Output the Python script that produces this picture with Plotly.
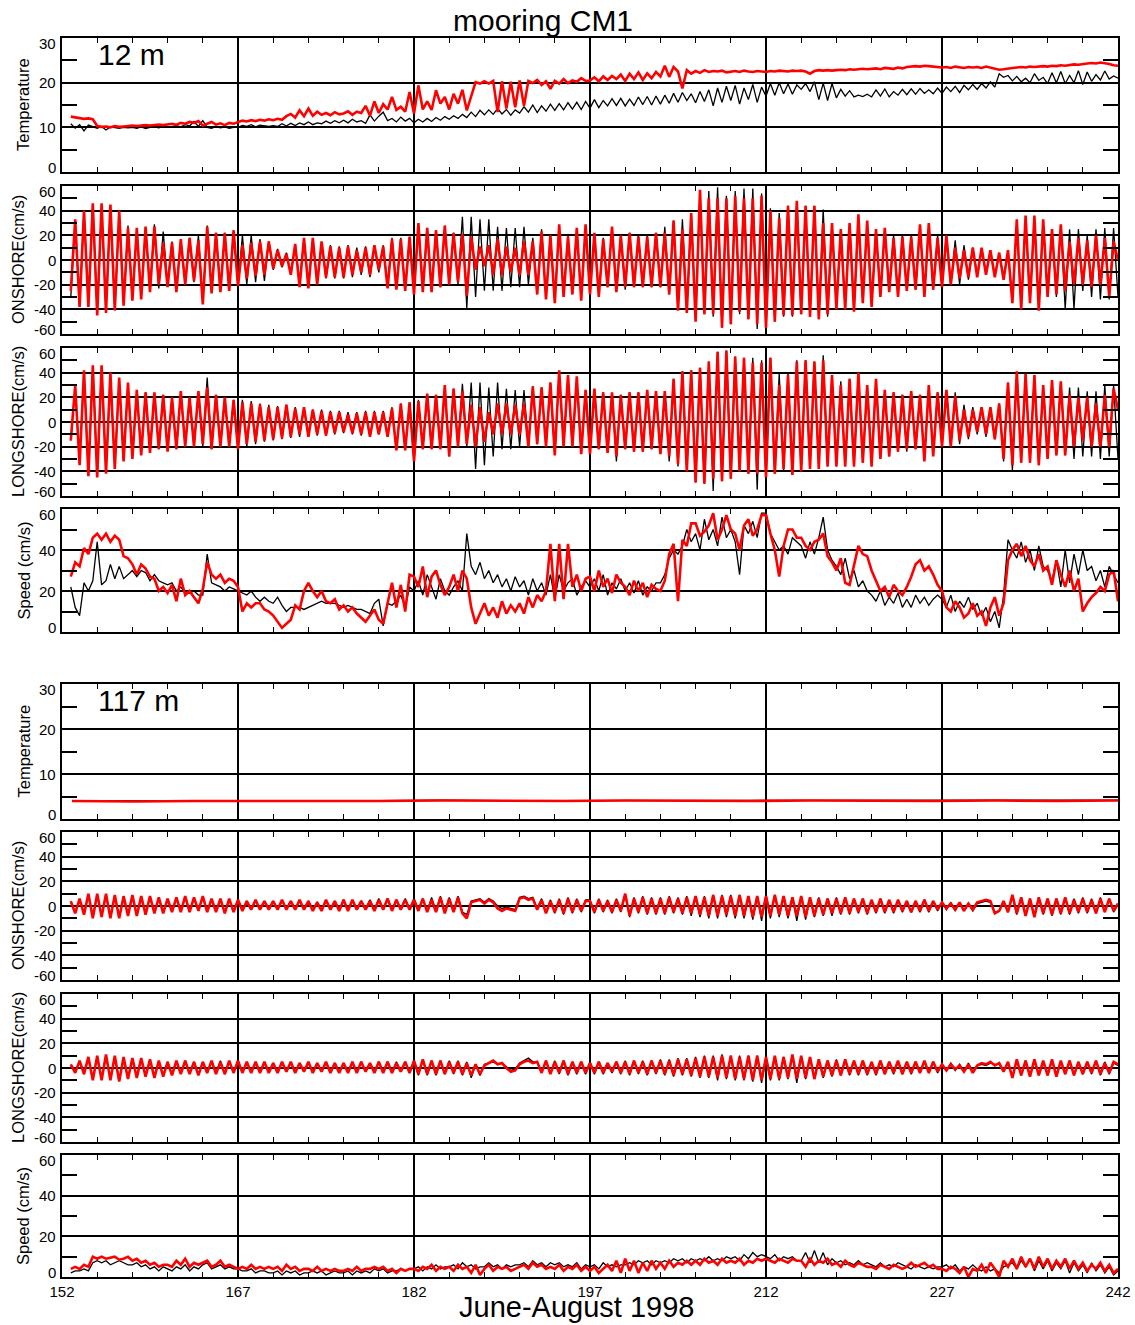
import numpy as np
import plotly.graph_objects as go

# ---------------- data ----------------
DAY_TICKS = [152, 167, 182, 197, 212, 227, 242]
MINOR_DAYS = list(range(155, 242, 3))

# sampling grid: 8 samples per 3 days (first row 6 samples)
T0, DT = 152.75, 0.375

T12_RED = [12.4, 12.2, 12.0, 11.9, 12.0, 11.8,
           10.3, 10.1, 10.2, 10.0, 10.3, 10.1, 10.2, 10.3,
           10.4, 10.3, 10.4, 10.5, 10.4, 10.5, 10.6, 10.5,
           10.6, 10.8, 10.6, 11.0, 10.8, 11.2, 11.0, 11.4,
           10.4, 10.8, 11.2, 10.6, 10.9, 10.5, 11.0, 10.8,
           11.2, 11.5, 11.3, 11.6, 11.4, 11.7, 11.5, 11.8,
           11.6, 11.9, 11.7, 12.5, 13.0, 12.2, 13.8, 12.5,
           14.2, 12.6, 13.5, 12.8, 13.2, 12.7, 13.4, 12.9,
           13.1, 13.6, 12.8, 13.5, 13.2, 14.8, 12.6, 15.8,
           13.2, 15.2, 14.0, 16.8, 13.9, 14.6, 13.5, 17.9,
           13.1, 19.4, 14.0, 15.8, 13.9, 18.3, 15.3, 16.8,
           14.0, 17.5, 15.3, 18.4, 13.8, 17.0, 20.1, 19.8,
           20.3, 19.8, 20.4, 13.4, 20.3, 14.2, 20.2, 14.5,
           20.5, 14.8, 20.4, 19.9, 20.6, 19.5, 20.3, 18.6,
           20.4, 19.8, 20.8, 19.9, 20.5, 20.2, 21.0, 20.4,
           20.5, 21.2, 20.3, 21.4, 20.6, 21.5, 20.8, 21.8,
           20.4, 22.0, 20.8, 22.3, 20.6, 22.1, 21.0, 22.4,
           21.4, 23.8, 21.3, 23.5, 22.5, 18.7, 22.8, 22.0,
           22.6, 22.2, 22.8, 22.4, 22.6, 22.5, 22.7, 22.3,
           22.5, 22.6, 22.4, 22.7, 22.5, 22.4, 22.6, 22.5,
           22.4, 22.6, 22.5, 22.7, 22.6, 22.5, 22.7, 22.6,
           22.7, 22.5, 22.0, 22.6, 22.8, 22.7, 22.8, 22.7,
           22.8, 22.9, 22.8, 23.0, 22.9, 23.0, 23.1, 23.0,
           23.1, 23.2, 23.0, 23.3, 23.2, 23.1, 23.4, 23.2,
           23.5, 23.6, 23.7, 23.6, 23.8, 23.7, 23.6, 23.5,
           23.4, 23.5, 23.3, 23.6, 23.4, 23.3, 23.5, 23.4,
           23.5, 23.3, 23.6, 23.4, 23.2, 22.9, 23.0, 23.2,
           23.3, 23.4, 23.5, 23.4, 23.6, 23.5, 23.6, 23.7,
           23.6, 23.8, 23.7, 23.9, 23.8, 24.0, 24.1, 24.0,
           24.2, 24.3, 24.4, 24.3, 24.5, 24.4, 24.2, 23.9, 23.8]

T12_BLACK = [10.8, 9.8, 10.6, 9.2, 10.5, 10.2,
             9.8, 10.2, 9.4, 10.1, 10.0, 9.8, 10.0, 9.9,
             10.0, 9.8, 10.1, 9.7, 10.0, 10.1, 9.9, 10.2,
             10.0, 10.2, 10.4, 10.1, 10.6, 10.3, 11.3, 10.2,
             11.5, 10.0, 9.8, 10.2, 9.9, 10.1, 9.8, 10.0,
             10.0, 10.4, 10.2, 10.6, 10.1, 10.5, 10.3, 10.2,
             10.4, 10.2, 10.8, 10.3, 10.9, 10.4, 11.0, 10.6,
             11.2, 10.6, 11.0, 10.8, 11.4, 10.9, 11.5, 11.0,
             11.6, 11.0, 11.8, 11.2, 11.5, 10.9, 12.8, 11.4,
             12.5, 13.4, 11.5, 12.0, 11.2, 12.3, 11.4, 12.0,
             11.0, 11.8, 11.2, 12.0, 11.3, 12.2, 11.6, 12.4,
             11.8, 12.6, 12.0, 12.9, 12.2, 13.4, 12.4, 13.8,
             12.8, 13.9, 12.9, 14.2, 13.0, 14.0, 12.7, 13.9,
             13.2, 14.6, 13.4, 15.0, 13.3, 14.8, 13.6, 15.2,
             13.8, 15.3, 13.9, 15.5, 14.1, 15.6, 14.0, 15.8,
             14.3, 16.2, 14.4, 16.0, 14.8, 16.4, 14.9, 16.5,
             14.8, 16.3, 14.9, 16.8, 15.1, 16.9, 15.0, 17.0,
             15.2, 17.2, 15.4, 17.6, 15.6, 17.8, 16.0, 17.5,
             15.5, 18.0, 15.8, 18.4, 14.8, 18.8, 15.6, 19.2,
             16.0, 19.4, 15.2, 18.8, 16.2, 19.6, 15.6, 19.0,
             17.0, 19.8, 17.2, 20.0, 17.5, 19.7, 17.4, 19.5,
             18.5, 19.8, 18.0, 20.2, 16.2, 19.9, 16.0, 19.8,
             16.6, 18.5, 17.0, 18.2, 16.8, 17.2, 16.9, 17.4,
             16.8, 18.4, 17.0, 18.6, 16.8, 18.0, 17.2, 18.5,
             17.3, 18.6, 17.4, 18.7, 17.6, 18.4, 17.5, 18.8,
             17.6, 19.0, 18.0, 19.2, 17.8, 19.4, 18.4, 19.6,
             18.5, 19.8, 18.8, 20.2, 19.0, 22.0, 21.2, 21.6,
             20.4, 21.4, 20.2, 21.0, 20.0, 22.0, 20.5, 21.2,
             19.8, 22.2, 20.0, 22.5, 19.8, 21.6, 20.0, 22.7,
             19.6, 22.4, 20.3, 21.8, 20.6, 22.6, 20.8, 21.5, 21.0]

ON12_RED = [-25, 33, -38, 40, -38, 46,
            -45, 46, -43, 45, -41, 40, -37, 26,
            -33, 26, -32, 27, -26, 27, -20, 14,
            -22, 14, -26, 17, -20, 18, -17, 16,
            -36, 27, -27, 22, -26, 22, -25, 24,
            -21, 12, -15, 14, -13, 15, -12, 15,
            -7, 8, -5, 5, -12, 13, -22, 18,
            -23, 18, -20, 15, -14, 11, -14, 10,
            -14, 11, -12, 8, -10, 10, -12, 12,
            -8, 11, -23, 17, -24, 17, -25, 19,
            -28, 30, -26, 26, -26, 24, -22, 28,
            -20, 22, -18, 21, -29, 19, -8, 11,
            -5, 12, -12, 17, -12, 11, -10, 10,
            -12, 15, -12, 15, -28, 23, -32, 20,
            -35, 29, -30, 19, -28, 26, -33, 29,
            -28, 22, -30, 17, -22, 27, -26, 20,
            -22, 22, -22, 19, -22, 19, -22, 22,
            -22, 22, -28, 32, -41, 25, -43, 38,
            -50, 57, -44, 50, -44, 50, -55, 50,
            -52, 52, -42, 50, -48, 50, -52, 52,
            -55, 40, -50, 34, -45, 44, -45, 48,
            -44, 44, -46, 44, -48, 30, -44, 30,
            -40, 25, -40, 30, -42, 37, -35, 32,
            -38, 25, -30, 26, -26, 18, -30, 19,
            -25, 19, -24, 29, -30, 30, -24, 18,
            -22, 20, -20, 10, -15, 8, -14, 10,
            -14, 10, -12, 8, -14, 6, -16, 8,
            -35, 33, -40, 36, -35, 36, -41, 33,
            -30, 25, -28, 29, -25, 15, -20, 18,
            -20, 16, -22, 20, -20, 18, -30, 15, 0]

ON12_BLACK = [-30, 30, -38, 40, -38, 44,
              -44, 44, -42, 44, -40, 38, -35, 28,
              -30, 24, -30, 26, -24, 29, -23, 23,
              -20, 15, -24, 16, -20, 18, -18, 20,
              -34, 28, -26, 22, -25, 22, -24, 24,
              -22, 20, -20, 20, -18, 17, -17, 15,
              -8, 9, -6, 6, -12, 12, -18, 17,
              -20, 17, -18, 14, -15, 12, -15, 11,
              -15, 12, -14, 10, -12, 11, -14, 12,
              -10, 12, -22, 18, -22, 18, -24, 18,
              -26, 28, -24, 25, -25, 24, -22, 26,
              -20, 22, -20, 35, -39, 35, -30, 33,
              -25, 33, -25, 27, -25, 26, -22, 26,
              -22, 27, -20, 18, -26, 25, -30, 20,
              -33, 27, -28, 20, -27, 25, -30, 27,
              -26, 20, -28, 18, -22, 25, -25, 20,
              -24, 22, -22, 20, -22, 20, -22, 22,
              -22, 27, -28, 32, -40, 33, -42, 38,
              -48, 56, -44, 56, -46, 59, -55, 52,
              -52, 56, -44, 58, -48, 58, -56, 54,
              -58, 42, -50, 38, -46, 44, -46, 46,
              -44, 44, -46, 44, -48, 41, -46, 30,
              -38, 25, -38, 29, -40, 35, -34, 31,
              -36, 24, -30, 25, -26, 20, -29, 20,
              -24, 20, -24, 27, -28, 28, -24, 20,
              -22, 20, -20, 16, -20, 12, -16, 10,
              -12, 8, -10, 6, -12, 4, -14, 6,
              -33, 30, -38, 33, -34, 34, -38, 31,
              -30, 25, -30, 28, -40, 25, -40, 25,
              -25, 20, -30, 25, -32, 26, -32, 26, -30]

LS12_RED = [-15, 30, -35, 42, -44, 46,
            -45, 46, -42, 40, -38, 36, -32, 32,
            -30, 26, -27, 24, -25, 24, -22, 22,
            -24, 20, -22, 25, -20, 20, -20, 25,
            -18, 28, -22, 22, -20, 20, -20, 18,
            -22, 16, -18, 15, -16, 14, -15, 12,
            -14, 12, -13, 14, -12, 11, -10, 12,
            -12, 10, -10, 9, -11, 8, -9, 8,
            -8, 6, -9, 7, -10, 8, -12, 8,
            -10, 8, -12, 11, -23, 15, -23, 16,
            -32, 17, -22, 23, -22, 22, -22, 30,
            -28, 27, -20, 25, -18, 14, -20, 12,
            -16, 8, -10, 15, -10, 15, -10, 14,
            -10, 15, -20, 29, -18, 28, -20, 32,
            -27, 42, -20, 38, -20, 37, -26, 26,
            -26, 27, -22, 24, -25, 24, -28, 22,
            -22, 24, -24, 24, -24, 26, -22, 25,
            -26, 25, -28, 35, -34, 41, -40, 42,
            -49, 44, -50, 49, -46, 57, -48, 58,
            -46, 53, -40, 52, -42, 48, -42, 48,
            -45, 52, -42, 30, -38, 38, -43, 49,
            -40, 50, -38, 49, -38, 50, -36, 38,
            -36, 30, -36, 35, -36, 40, -33, 30,
            -36, 35, -30, 26, -28, 24, -24, 22,
            -22, 25, -22, 22, -32, 30, -28, 24,
            -20, 26, -20, 21, -15, 10, -12, 10,
            -8, 12, -10, 12, -14, 15, -30, 32,
            -35, 41, -33, 39, -33, 38, -35, 30,
            -30, 34, -27, 33, -27, 22, -20, 20,
            -15, 20, -20, 15, -20, 22, -20, 27, 10]

LS12_BLACK = [-15, 28, -33, 40, -42, 44,
              -44, 44, -40, 38, -36, 34, -30, 30,
              -28, 25, -26, 24, -24, 23, -22, 22,
              -22, 20, -22, 24, -20, 21, -20, 24,
              -20, 36, -22, 22, -20, 20, -20, 18,
              -22, 18, -20, 17, -18, 15, -16, 14,
              -15, 13, -14, 14, -13, 12, -12, 12,
              -12, 10, -11, 10, -11, 9, -10, 9,
              -9, 8, -10, 8, -11, 9, -12, 9,
              -10, 9, -12, 12, -22, 15, -22, 16,
              -32, 18, -22, 22, -22, 22, -22, 28,
              -28, 27, -20, 31, -20, 32, -38, 32,
              -35, 28, -28, 32, -22, 27, -22, 26,
              -20, 26, -20, 29, -18, 28, -20, 32,
              -27, 40, -20, 36, -20, 35, -26, 26,
              -26, 26, -22, 24, -25, 23, -32, 22,
              -22, 24, -24, 24, -24, 26, -22, 25,
              -26, 25, -32, 35, -36, 41, -40, 42,
              -49, 44, -50, 49, -56, 57, -48, 58,
              -46, 53, -40, 52, -42, 52, -55, 50,
              -45, 52, -42, 39, -40, 40, -43, 50,
              -40, 50, -38, 49, -38, 54, -36, 38,
              -36, 33, -36, 35, -36, 40, -33, 30,
              -36, 34, -30, 26, -28, 24, -24, 22,
              -24, 25, -22, 22, -30, 28, -27, 24,
              -20, 26, -20, 24, -18, 14, -14, 12,
              -10, 12, -12, 12, -14, 15, -32, 32,
              -39, 40, -33, 39, -33, 38, -35, 30,
              -30, 33, -27, 32, -27, 28, -30, 28,
              -28, 25, -28, 25, -30, 30, -28, 30, -30]

SP12_RED = [27, 34, 32, 41, 38, 46,
            48, 45, 48, 44, 47, 45, 37, 36,
            33, 28, 33, 31, 27, 26, 20, 22,
            19, 23, 15, 26, 18, 20, 17, 14,
            21, 34, 28, 26, 28, 24, 26, 25,
            22, 10, 14, 12, 14, 14, 11, 10,
            8, 5, 2, 4, 6, 13, 11, 20,
            24, 20, 17, 20, 15, 14, 16, 11,
            13, 10, 12, 9, 7, 5, 8, 11,
            6, 4, 14, 24, 12, 23, 10, 28,
            27, 22, 32, 17, 27, 30, 23, 18,
            22, 28, 20, 30, 26, 12, 4, 9,
            14, 8, 12, 7, 15, 9, 13, 10,
            14, 9, 17, 12, 18, 15, 20, 43,
            15, 43, 16, 43, 22, 28, 20, 26,
            27, 20, 30, 22, 26, 19, 28, 24,
            22, 18, 25, 20, 24, 17, 23, 21,
            20, 25, 38, 43, 15, 45, 42, 53,
            53, 47, 49, 52, 58, 45, 50, 57,
            50, 48, 40, 52, 55, 47, 50, 57,
            57, 48, 40, 27, 42, 50, 50, 46,
            46, 42, 40, 44, 45, 48, 37, 34,
            30, 36, 24, 23, 32, 42, 38, 37,
            30, 25, 20, 22, 17, 23, 20, 18,
            22, 27, 33, 35, 30, 32, 28, 23,
            20, 12, 10, 15, 12, 7, 9, 14,
            8, 10, 3, 12, 17, 8, 14, 35,
            40, 43, 37, 42, 35, 32, 38, 30,
            32, 23, 35, 28, 22, 30, 20, 26,
            10, 14, 17, 19, 22, 20, 28, 30, 15]

SP12_BLACK = [22, 12, 8, 24, 20, 25,
              44, 23, 25, 33, 26, 32, 26, 28,
              30, 27, 30, 29, 25, 28, 25, 24,
              23, 24, 20, 22, 19, 19, 20, 18,
              18, 38, 24, 23, 22, 20, 22, 21,
              20, 19, 18, 20, 17, 15, 17, 15,
              14, 17, 13, 10, 12, 12, 12, 11,
              12, 13, 14, 15, 14, 14, 14, 13,
              12, 13, 12, 11, 11, 10, 9, 14,
              16, 3, 14, 13, 15, 18, 12, 22,
              20, 25, 18, 28, 22, 16, 26, 20,
              18, 22, 25, 20, 48, 32, 28, 34,
              26, 30, 24, 28, 22, 26, 20, 27,
              22, 25, 18, 26, 20, 24, 18, 28,
              16, 28, 20, 24, 26, 18, 22, 25,
              22, 26, 20, 28, 18, 24, 21, 26,
              20, 24, 19, 25, 18, 22, 20, 24,
              24, 28, 36, 40, 38, 42, 50, 44,
              48, 40, 55, 45, 50, 42, 56, 46,
              50, 44, 28, 52, 48, 54, 46, 58,
              58, 48, 44, 40, 42, 38, 46, 44,
              42, 36, 44, 38, 46, 56, 40, 35,
              32, 28, 36, 26, 30, 22, 25, 20,
              18, 15, 20, 13, 17, 14, 19, 12,
              16, 12, 18, 14, 17, 13, 16, 18,
              16, 12, 18, 10, 15, 12, 17, 11,
              14, 8, 12, 5, 10, 2, 18, 45,
              40, 36, 44, 34, 40, 30, 42, 32,
              30, 25, 35, 22, 40, 24, 38, 28,
              40, 30, 32, 25, 30, 22, 32, 28, 24]

T117_RED = [4.0, 3.9, 4.0, 4.0, 3.9, 4.0, 4.1, 4.0, 4.0, 4.1,
            4.0, 4.0, 4.1, 4.0, 4.0, 4.1, 4.0, 4.1]
T117_BLACK = [4.1, 4.0, 4.0, 4.1, 4.0, 4.1, 4.2, 4.1, 4.1, 4.2,
              4.1, 4.1, 4.2, 4.1, 4.1, 4.2, 4.1, 4.2]

ON117_RED = [4, -6, 6, -7, 10, -10,
             10, -9, 10, -10, 9, -10, 8, -8,
             9, -8, 8, -7, 8, -6, 7, -6,
             6, -5, 7, -5, 8, -5, 7, -4,
             8, -5, 6, -5, 6, -6, 6, -5,
             5, -4, 4, -3, 5, -3, 4, -3,
             4, -3, 5, -3, 4, -3, 5, -3,
             4, -4, 3, -4, 5, -3, 4, -4,
             5, -4, 5, -3, 4, -3, 4, -4,
             5, -3, 6, -4, 5, -3, 5, -3,
             5, -4, 6, -5, 5, -5, 7, -6,
             6, -5, 7, -6, -10, 3, 4, 5,
             2, 5, 3, -2, -4, -2, -3, -4,
             6, 7, 5, 6, -3, 5, -6, 4,
             -5, 5, -6, 6, -5, 5, -4, 4,
             4, -5, 5, -4, 4, -5, 5, -4,
             10, -8, 6, -5, 7, -6, 6, -6,
             6, -6, 7, -5, 6, -6, 7, -6,
             8, -7, 7, -8, 9, -8, 8, -7,
             8, -8, 9, -8, 8, -9, 8, -9,
             8, -8, 9, -7, 8, -8, 7, -8,
             8, -9, 7, -8, 6, -7, 6, -6,
             6, -6, 7, -6, 6, -5, 6, -6,
             5, -5, 6, -5, 5, -5, 5, -4,
             4, -5, 4, -4, 5, -4, 4, -3,
             3, -2, 2, -3, 3, -4, 2, -3,
             3, 4, 5, 4, -6, -4, 4, -5,
             9, -6, 7, -8, 6, -9, 7, -6,
             6, -7, 6, -6, 7, -6, 5, -5,
             6, -5, 5, -6, 6, -5, 6, -4, 2]

ON117_BLACK = [3, -5, 5, -6, 9, -9,
               9, -8, 9, -9, 8, -9, 7, -7,
               8, -7, 7, -6, 7, -5, 6, -5,
               5, -4, 6, -4, 7, -4, 6, -3,
               7, -4, 5, -4, 5, -5, 5, -4,
               5, -3, 4, -3, 4, -3, 4, -2,
               4, -3, 4, -2, 4, -3, 4, -2,
               4, -3, 3, -3, 4, -2, 4, -3,
               5, -3, 4, -2, 4, -2, 5, -3,
               6, -2, 6, -3, 5, -2, 6, -2,
               6, -3, 6, -4, 7, -4, 8, -5,
               7, -4, 8, -5, -7, 4, 5, 6,
               3, 6, 4, 0, -2, -1, -2, -3,
               7, 8, 6, 7, -2, 6, -5, 5,
               -6, 6, -7, 7, -6, 6, -5, 5,
               5, -6, 6, -5, 5, -6, 6, -5,
               9, -9, 7, -6, 8, -7, 7, -7,
               7, -7, 8, -6, 7, -7, 8, -8,
               8, -9, 8, -10, 9, -10, 9, -9,
               9, -10, 9, -10, 8, -11, 8, -12,
               9, -10, 9, -9, 8, -10, 7, -12,
               8, -11, 7, -9, 7, -8, 6, -8,
               7, -7, 7, -7, 6, -6, 6, -7,
               5, -6, 6, -6, 5, -6, 5, -5,
               4, -5, 4, -5, 5, -5, 4, -4,
               3, -3, 3, -4, 3, -4, 2, -4,
               2, 3, 4, 3, -5, -4, 3, -5,
               8, -7, 7, -8, 6, -8, 7, -7,
               6, -8, 6, -7, 7, -7, 6, -6,
               7, -6, 6, -6, 7, -5, 6, -5, 1]

LS117_RED = [3, -4, 6, -5, 9, -10,
             10, -10, 11, -10, 10, -11, 9, -9,
             8, -8, 8, -7, 7, -8, 6, -7,
             5, -6, 6, -5, 6, -5, 5, -6,
             5, -4, 6, -5, 5, -5, 6, -4,
             6, -4, 5, -4, 5, -4, 5, -4,
             4, -4, 5, -3, 5, -4, 4, -3,
             5, -4, 4, -3, 5, -4, 4, -4,
             4, -4, 5, -4, 5, -3, 4, -4,
             5, -4, 5, -4, 4, -3, 5, -4,
             6, -5, 7, -5, 6, -5, 6, -5,
             5, -4, 5, -5, 4, -6, 3, -5,
             2, 4, 6, 3, 4, 0, -3, -2,
             3, 5, 6, 4, 5, -4, 6, -5,
             5, -4, 6, -5, 5, -4, 5, -4,
             4, -4, 5, -4, 4, -3, 5, -4,
             5, -5, 6, -4, 5, -5, 6, -4,
             6, -5, 6, -6, 7, -5, 7, -6,
             8, -7, 9, -7, 9, -8, 10, -8,
             10, -9, 9, -9, 10, -10, 10, -10,
             9, -9, 10, -9, 9, -8, 11, -9,
             10, -8, 9, -9, 7, -7, 6, -6,
             6, -6, 7, -5, 6, -5, 6, -5,
             5, -5, 6, -5, 5, -4, 6, -5,
             5, -4, 5, -4, 6, -4, 5, -3,
             3, -2, 3, -1, 2, -3, 3, -4,
             2, 4, 3, 5, 2, 4, -3, 5,
             -8, 7, -6, 6, -7, 7, -6, 6,
             -6, 7, -7, 6, -5, 6, -6, 5,
             -5, 5, -4, 6, -5, 4, -4, 5, 3]

LS117_BLACK = [2, -3, 5, -5, 8, -9,
               9, -9, 10, -9, 9, -10, 8, -8,
               7, -7, 7, -6, 6, -7, 5, -6,
               5, -5, 5, -4, 6, -4, 5, -5,
               4, -4, 5, -4, 6, -5, 5, -4,
               5, -3, 4, -3, 4, -3, 4, -3,
               4, -3, 4, -3, 4, -3, 4, -3,
               4, -3, 4, -3, 4, -3, 4, -3,
               4, -3, 4, -3, 5, -3, 4, -3,
               5, -3, 5, -4, 5, -3, 5, -4,
               6, -6, 7, -6, 6, -6, 6, -5,
               6, -5, 6, -6, 5, -8, 3, -6,
               3, 4, 5, 3, 4, 1, -2, -1,
               4, 6, 8, 5, 5, -3, 6, -4,
               6, -5, 6, -6, 5, -5, 5, -5,
               5, -5, 5, -5, 4, -4, 5, -5,
               6, -6, 6, -5, 6, -6, 6, -5,
               7, -6, 7, -7, 8, -6, 8, -7,
               9, -8, 10, -8, 10, -10, 11, -9,
               10, -10, 10, -10, 10, -11, 10, -12,
               9, -10, 9, -10, 9, -9, 10, -12,
               9, -9, 8, -8, 7, -8, 6, -7,
               7, -6, 6, -6, 6, -6, 6, -6,
               5, -6, 6, -5, 5, -5, 5, -5,
               5, -5, 5, -4, 5, -4, 5, -4,
               3, -2, 4, -2, 3, -3, 4, -3,
               2, 3, 2, 4, 3, 3, -2, 4,
               -7, 6, -6, 6, -6, 6, -6, 5,
               -6, 6, -6, 5, -5, 6, -6, 5,
               -5, 5, -5, 6, -6, 5, -5, 4, 2]

SP117_RED = [4, 5, 4, 6, 5, 10,
             9, 10, 9, 9.5, 10, 8.5, 9, 10,
             8, 9, 7, 8, 6, 7, 5, 6,
             6, 5, 8, 6, 9, 5, 7, 6,
             7, 8, 5, 6, 8, 5, 6, 5,
             4, 5, 4, 6, 4, 5, 4, 5,
             4, 5, 3, 6, 4, 5, 3, 4,
             4, 3, 5, 3, 4, 3, 4, 3,
             3, 4, 3, 5, 3, 4, 4, 5,
             4, 5, 3, 4, 2, 4, 3, 4,
             4, 3, 5, 4, 6, 3, 5, 4,
             5, 3, 6, 4, 5, 2, 6, 1,
             4, 6, 3, 5, 4, 5, 3, 4,
             5, 6, 4, 7, 5, 6, 4, 5,
             4, 6, 3, 5, 4, 6, 3, 5,
             3, 5, 2, 4, 6, 3, 8, 2,
             9, 3, 8, 2, 7, 3, 8, 4,
             7, 4, 8, 5, 7, 6, 8, 6,
             8, 6, 9, 7, 8, 6, 9, 7,
             8, 7, 9, 6, 8, 7, 9, 8,
             9, 8, 7, 9, 8, 7, 9, 8,
             8, 5, 9, 6, 8, 7, 9, 6,
             7, 5, 8, 6, 5, 7, 6, 5,
             5, 4, 6, 5, 4, 6, 5, 4,
             5, 7, 5, 6, 7, 5, 6, 4,
             4, 3, 5, 4, 2, 5, 0, 4,
             3, 6, 2, 7, 4, 0, 8, 5,
             9, 4, 10, 5, 9, 4, 10, 5,
             9, 4, 8, 5, 9, 4, 8, 4,
             7, 3, 6, 4, 7, 3, 6, 2, 4]

SP117_BLACK = [2, 3, 3, 4, 3, 7,
               8, 7, 8, 6, 7, 8, 7, 6,
               6, 7, 5, 6, 4, 5, 3, 5,
               4, 3, 5, 4, 6, 3, 5, 4,
               6, 7, 4, 5, 6, 4, 5, 4,
               4, 3, 3, 4, 2, 3, 3, 2,
               2, 3, 1, 3, 2, 3, 1, 2,
               2, 3, 2, 3, 1, 2, 3, 2,
               2, 3, 1, 3, 2, 3, 2, 4,
               3, 4, 2, 3, 3, 4, 3, 4,
               4, 5, 3, 5, 4, 6, 4, 5,
               5, 6, 4, 7, 5, 6, 4, 5,
               5, 7, 5, 6, 4, 6, 5, 6,
               6, 7, 5, 8, 6, 7, 5, 7,
               6, 7, 5, 6, 5, 7, 4, 6,
               5, 6, 4, 7, 5, 6, 5, 6,
               6, 7, 6, 8, 7, 8, 6, 8,
               7, 8, 7, 9, 8, 9, 7, 9,
               8, 9, 8, 10, 8, 9, 8, 10,
               9, 10, 8, 11, 9, 12, 10, 11,
               10, 9, 11, 8, 10, 9, 10, 8,
               8, 12, 7, 13, 7, 12, 6, 9,
               7, 8, 6, 7, 6, 8, 6, 7,
               6, 5, 7, 5, 6, 5, 7, 6,
               5, 4, 6, 5, 4, 5, 4, 5,
               5, 6, 4, 6, 3, 5, 4, 6,
               4, 3, 5, 3, 4, 2, 5, 6,
               7, 4, 8, 5, 9, 3, 8, 4,
               8, 3, 7, 4, 8, 2, 7, 3,
               6, 2, 7, 3, 6, 2, 5, 1, 3]

# ---------------- figure ----------------
W, H = 1135, 1325
X0, X1 = 62, 1118
FONT = "Liberation Sans, Arial, Helvetica, sans-serif"
PANELS_PX = [(38, 172), (186, 334), (348, 496), (509, 632),
             (684, 819), (832, 980), (994, 1142), (1155, 1277)]

TEMP_AX = dict(rng=[0, 30], major=[0, 10, 20, 30], minor=[5, 15, 25])
VEL_AX = dict(rng=[-60, 60], major=[-60, -40, -20, 0, 20, 40, 60], minor=[-50, -30, -10, 10, 30, 50])
SPD_AX = dict(rng=[0, 60], major=[0, 20, 40, 60], minor=[10, 30, 50])

specs = [
    (T12_BLACK, T12_RED, TEMP_AX, "Temperature", False),
    (ON12_BLACK, ON12_RED, VEL_AX, "ONSHORE(cm/s)", False),
    (LS12_BLACK, LS12_RED, VEL_AX, "LONGSHORE(cm/s)", False),
    (SP12_BLACK, SP12_RED, SPD_AX, "Speed (cm/s)", False),
    (T117_BLACK, T117_RED, TEMP_AX, "Temperature", True),
    (ON117_BLACK, ON117_RED, VEL_AX, "ONSHORE(cm/s)", False),
    (LS117_BLACK, LS117_RED, VEL_AX, "LONGSHORE(cm/s)", False),
    (SP117_BLACK, SP117_RED, SPD_AX, "Speed (cm/s)", False),
]


def grid_times(n):
    return T0 + DT * np.arange(n)


fig = go.Figure()
layout = {}
annotations = []
TICKFONT = dict(family=FONT, size=15, color="black")

for i, (blk, red, ax, label, flat) in enumerate(specs, start=1):
    sfx = "" if i == 1 else str(i)
    top, bot = PANELS_PX[i - 1]
    if flat:
        tb = np.linspace(152.85, 242, len(blk))
        tr = np.linspace(152.85, 242, len(red))
    else:
        tb = grid_times(len(blk))
        tr = grid_times(len(red))
    fig.add_trace(go.Scatter(x=tb, y=blk, mode="lines", line=dict(color="black", width=1.3),
                             xaxis="x" + sfx, yaxis="y" + sfx, showlegend=False, hoverinfo="skip"))
    fig.add_trace(go.Scatter(x=tr, y=red, mode="lines", line=dict(color="#ff0000", width=2.6),
                             xaxis="x" + sfx, yaxis="y" + sfx, showlegend=False, hoverinfo="skip"))
    layout["xaxis" + sfx] = dict(
        domain=[X0 / W, X1 / W], range=[152, 242], anchor="y" + sfx, automargin=False,
        tickmode="array", tickvals=DAY_TICKS, ticktext=[str(d) for d in DAY_TICKS],
        showticklabels=(i == 8), ticks="",
        showgrid=True, gridcolor="black", gridwidth=2,
        zeroline=False, showline=True, linecolor="black", linewidth=2, mirror="ticks",
        tickfont=TICKFONT,
        minor=dict(tickmode="array", tickvals=MINOR_DAYS, ticks="inside", ticklen=5,
                   tickwidth=1, tickcolor="black", showgrid=False),
    )
    layout["yaxis" + sfx] = dict(
        domain=[1 - bot / H, 1 - top / H], range=ax["rng"], anchor="x" + sfx, automargin=False,
        tickmode="array", tickvals=ax["major"], showticklabels=False,
        ticks="", showgrid=True, gridcolor="black", gridwidth=2, zeroline=False,
        showline=True, linecolor="black", linewidth=2, mirror="ticks",
        minor=dict(tickmode="array", tickvals=ax["minor"], ticks="inside", ticklen=15,
                   tickwidth=2, tickcolor="black", showgrid=False),
    )
    # y tick labels (edge labels nudged inside the frame as in the reference)
    lo, hi = ax["rng"]
    for v in ax["major"]:
        shift = -5 if v == hi else (5 if v == lo else 0)
        annotations.append(dict(text=str(v), xref="paper", yref="y" + sfx, x=58 / W, y=v,
                                yshift=shift, showarrow=False, xanchor="right", yanchor="middle",
                                font=TICKFONT))
    xlab = 23 if ("Temp" in label or "Speed" in label) else 18
    annotations.append(dict(text=label, xref="paper", yref="paper", x=xlab / W,
                            y=1 - (top + bot) / 2 / H, textangle=-90, showarrow=False,
                            xanchor="center", yanchor="middle",
                            font=dict(family=FONT, size=16.5, color="black")))

annotations += [
    dict(text="mooring CM1", xref="paper", yref="paper", x=543 / W, y=1 - 21 / H,
         showarrow=False, xanchor="center", yanchor="middle",
         font=dict(family=FONT, size=30, color="black")),
    dict(text="12 m", xref="paper", yref="paper", x=96 / W, y=1 - 55 / H,
         showarrow=False, xanchor="left", yanchor="middle",
         font=dict(family=FONT, size=30, color="black")),
    dict(text="117 m", xref="paper", yref="paper", x=96 / W, y=1 - 700 / H,
         showarrow=False, xanchor="left", yanchor="middle",
         font=dict(family=FONT, size=30, color="black")),
    dict(text="June-August 1998", xref="paper", yref="paper", x=576 / W, y=1 / H,
         showarrow=False, xanchor="center", yanchor="bottom", borderpad=0,
         font=dict(family=FONT, size=29, color="black")),
]

fig.update_layout(
    width=W, height=H, autosize=False,
    margin=dict(l=0, r=0, t=0, b=0, pad=0, autoexpand=False),
    paper_bgcolor="white", plot_bgcolor="white",
    annotations=annotations, showlegend=False,
    **layout,
)

fig.write_html("out.html", config={"displayModeBar": False})
